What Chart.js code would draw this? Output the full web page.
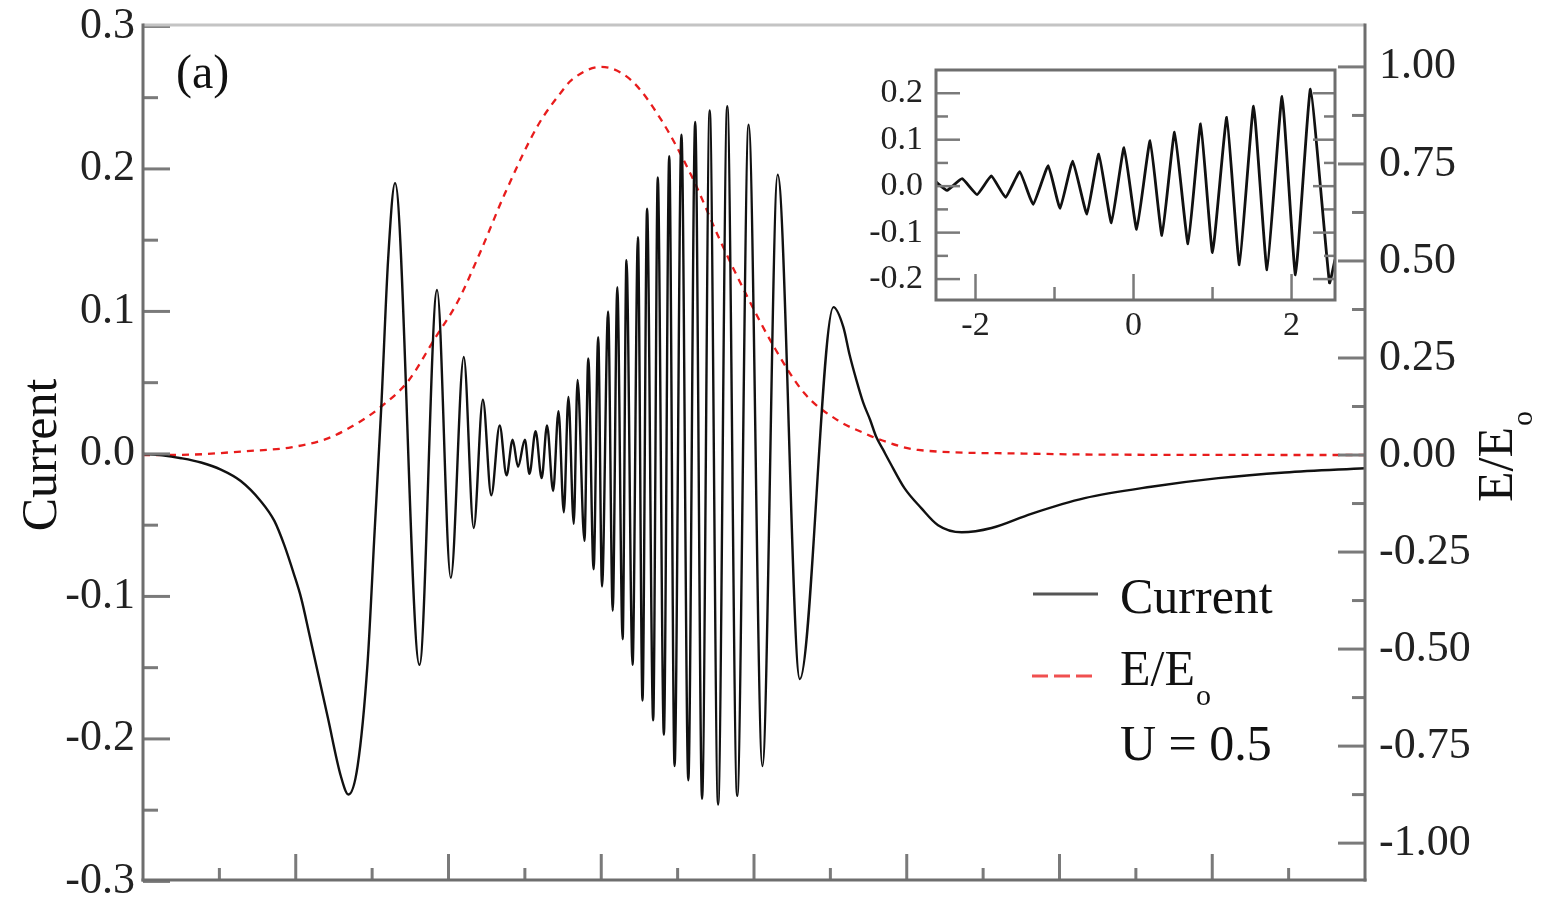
<!DOCTYPE html>
<html>
<head>
<meta charset="utf-8">
<script src="https://cdn.jsdelivr.net/npm/chart.js@4.4.1/dist/chart.umd.min.js"></script>
<style>
  html, body { margin: 0; padding: 0; background: #fff; }
  #wrap { position: relative; width: 1541px; height: 897px; }
  #main { position: absolute; left: 0; top: 0; }
  #inset { position: absolute; left: 860px; top: 60px; }
</style>
</head>
<body>
<div id="wrap">
  <canvas id="main" width="1541" height="897"></canvas>
  <canvas id="inset" width="485" height="290"></canvas>
</div>
<script>
// main panel - current (left axis)
const currentT = [-6.00, -5.75, -5.50, -5.24, -4.98, -4.72, -4.46, -4.28, -4.15, -4.02, -3.93, -3.82, -3.70, -3.58, -3.41, -3.31,
  -3.19, -3.06, -2.97, -2.88, -2.79, -2.70, -2.38, -2.15, -1.97, -1.80, -1.67, -1.55, -1.44, -1.33,
  -1.24, -1.16, -1.09, -1.00, -0.94, -0.86, -0.78, -0.71, -0.63, -0.56, -0.49, -0.43, -0.36, -0.31,
  -0.22, -0.17, -0.10, -0.04, 0.01, 0.09, 0.15, 0.21, 0.28, 0.33, 0.41, 0.48, 0.54, 0.60, 0.68, 0.74,
  0.82, 0.89, 0.96, 1.05, 1.14, 1.23, 1.32, 1.42, 1.53, 1.65, 1.78, 1.93, 2.11, 2.31, 2.60, 3.04,
  3.17, 3.25, 3.34, 3.43, 3.52, 3.60, 3.69, 3.78, 3.97, 4.19, 4.41, 4.72, 5.11, 5.63, 6.33, 7.20, 8.08, 8.95, 10.0];
const currentVal = [0.000, -0.001, -0.003, -0.006, -0.011, -0.019, -0.033, -0.047, -0.064, -0.085, -0.101, -0.127, -0.156, -0.185, -0.226, -0.239,
  -0.219, -0.147, -0.057, 0.033, 0.137, 0.190, -0.148, 0.115, -0.087, 0.068, -0.052, 0.038, -0.029, 0.020,
  -0.015, 0.010, -0.009, 0.010, -0.014, 0.016, -0.017, 0.020, -0.026, 0.030, -0.041, 0.040, -0.049, 0.052,
  -0.061, 0.067, -0.081, 0.082, -0.093, 0.100, -0.110, 0.117, -0.130, 0.136, -0.148, 0.152, -0.173, 0.172, -0.187, 0.194,
  -0.197, 0.209, -0.219, 0.224, -0.229, 0.233, -0.242, 0.241, -0.246, 0.244, -0.240, 0.231, -0.219, 0.196, -0.158, 0.103,
  0.089, 0.070, 0.052, 0.036, 0.024, 0.012, 0.003, -0.006, -0.024, -0.038, -0.050, -0.055, -0.052, -0.042, -0.031, -0.023, -0.017, -0.013, -0.010];

// main panel - field envelope E/Eo (right axis)
const fieldT = [-6, -5.37, -4.72, -4.06, -3.58, -3.15, -2.88, -2.53, -2.18, -1.88, -1.59, -1.27, -0.83, -0.52, -0.39,
  0, 0.39, 0.79, 1.18, 1.57, 1.92, 2.27, 2.66, 3.10, 3.47, 3.63, 4.15, 5.46, 6.55, 10];
const fieldVal = [0, 0.001, 0.009, 0.020, 0.043, 0.087, 0.125, 0.19, 0.30, 0.395, 0.52, 0.67, 0.849, 0.936, 0.966,
  1.0, 0.966, 0.862, 0.72, 0.547, 0.405, 0.276, 0.159, 0.089, 0.054, 0.041, 0.013, 0.004, 0.001, 0];

// inset - current
const insetT = [-2.50, -2.36, -2.17, -1.98, -1.80, -1.62, -1.44, -1.27, -1.08, -0.93, -0.77, -0.59, -0.44, -0.28,
  -0.12, 0.04, 0.21, 0.36, 0.52, 0.69, 0.85, 1.00, 1.18, 1.34, 1.52, 1.69, 1.88, 2.05, 2.24, 2.48, 2.55];
const insetVal = [0.009, -0.009, 0.016, -0.018, 0.022, -0.024, 0.031, -0.039, 0.044, -0.048, 0.054, -0.060, 0.069, -0.079,
  0.083, -0.093, 0.098, -0.106, 0.116, -0.124, 0.134, -0.143, 0.148, -0.169, 0.172, -0.180, 0.193, -0.191, 0.209, -0.208, -0.158];

// ticks
const leftTicks = [-0.3, -0.2, -0.1, 0, 0.1, 0.2, 0.3];
const leftMinor = [-0.25, -0.15, -0.05, 0.05, 0.15, 0.25];
const rightTicks = [-1, -0.75, -0.5, -0.25, 0, 0.25, 0.5, 0.75, 1];
const rightMinor = [-0.875, -0.625, -0.375, -0.125, 0.125, 0.375, 0.625, 0.875];
const xMajor = [-4, -2, 0, 2, 4, 6, 8];
const xMinor = [-5, -3, -1, 1, 3, 5, 7, 9];
const insetYTicks = [-0.2, -0.1, 0, 0.1, 0.2];
const insetYMinor = [-0.15, -0.05, 0.05, 0.15];
const insetXTicks = [-2, 0, 2];
const insetXMinor = [-1, 1];

const SERIF = "'Liberation Serif', 'DejaVu Serif', serif";
Chart.defaults.font.family = SERIF;

const pts = (xs, ys) => xs.map((x, i) => ({ x, y: ys[i] }));

function line(ctx, x1, y1, x2, y2) {
  ctx.beginPath();
  ctx.moveTo(x1, y1);
  ctx.lineTo(x2, y2);
  ctx.stroke();
}

const mainDeco = {
  id: 'mainDeco',
  afterDatasetsDraw(chart) {
    const { ctx, chartArea: a, scales } = chart;
    ctx.save();
    ctx.lineWidth = 3;
    ctx.strokeStyle = '#7a7a7a';
    leftTicks.forEach(v => { const p = scales.y.getPixelForValue(v); line(ctx, a.left, p, a.left + 27, p); });
    leftMinor.forEach(v => { const p = scales.y.getPixelForValue(v); line(ctx, a.left, p, a.left + 15, p); });
    rightTicks.forEach(v => { const p = scales.y2.getPixelForValue(v); line(ctx, a.right, p, a.right - 27, p); });
    rightMinor.forEach(v => { const p = scales.y2.getPixelForValue(v); line(ctx, a.right, p, a.right - 13, p); });
    xMajor.forEach(v => { const p = scales.x.getPixelForValue(v); line(ctx, p, a.bottom, p, a.bottom - 26); });
    xMinor.forEach(v => { const p = scales.x.getPixelForValue(v); line(ctx, p, a.bottom, p, a.bottom - 12); });
    // frame
    ctx.strokeStyle = '#c4c4c4';
    line(ctx, a.left, a.top, a.right, a.top);
    ctx.strokeStyle = '#6e6e6e';
    line(ctx, a.left, a.top - 1.5, a.left, a.bottom + 1.5);
    line(ctx, a.left - 1.5, a.bottom, a.right + 1.5, a.bottom);
    line(ctx, a.right, a.top - 1.5, a.right, a.bottom + 1.5);
    ctx.restore();
  },
  afterDraw(chart) {
    const ctx = chart.ctx;
    ctx.save();
    ctx.fillStyle = '#111';
    ctx.textBaseline = 'alphabetic';
    ctx.font = '48px ' + SERIF;
    ctx.textAlign = 'left';
    ctx.fillText('(a)', 176, 88);

    // axis titles
    ctx.font = '50px ' + SERIF;
    ctx.save();
    ctx.translate(56, 455);
    ctx.rotate(-Math.PI / 2);
    ctx.textAlign = 'center';
    ctx.fillText('Current', 0, 0);
    ctx.restore();

    ctx.save();
    ctx.translate(1512, 502);
    ctx.rotate(-Math.PI / 2);
    ctx.textAlign = 'left';
    ctx.fillText('E/E', 0, 0);
    const w = ctx.measureText('E/E').width;
    ctx.font = '30px ' + SERIF;
    ctx.fillText('o', w + 1, 20);
    ctx.restore();

    // legend
    ctx.lineWidth = 3;
    ctx.strokeStyle = '#555';
    line(ctx, 1033, 594, 1098, 594);
    ctx.strokeStyle = '#f05050';
    ctx.setLineDash([16, 6]);
    line(ctx, 1032, 676, 1096, 676);
    ctx.setLineDash([]);
    ctx.font = '50px ' + SERIF;
    ctx.fillText('Current', 1120, 613);
    ctx.fillText('E/E', 1120, 685);
    const w2 = ctx.measureText('E/E').width;
    ctx.fillText('U = 0.5', 1120, 760);
    ctx.font = '30px ' + SERIF;
    ctx.fillText('o', 1120 + w2 + 1, 705);
    ctx.restore();
  }
};

new Chart(document.getElementById('main'), {
  type: 'line',
  data: {
    datasets: [
      {
        label: 'Current',
        data: pts(currentT, currentVal),
        yAxisID: 'y',
        borderColor: '#111',
        borderWidth: 2.4,
        pointRadius: 0,
        cubicInterpolationMode: 'monotone'
      },
      {
        label: 'E/Eo',
        data: pts(fieldT, fieldVal),
        yAxisID: 'y2',
        borderColor: '#e81c1c',
        borderWidth: 2.3,
        borderDash: [7, 6],
        pointRadius: 0,
        cubicInterpolationMode: 'monotone'
      }
    ]
  },
  options: {
    responsive: false,
    animation: false,
    devicePixelRatio: 1,
    layout: { padding: { top: 25, left: 0, right: 0, bottom: 0 } },
    plugins: { legend: { display: false }, tooltip: { enabled: false } },
    scales: {
      x: {
        type: 'linear', min: -6, max: 10,
        grid: { display: false, drawTicks: false },
        border: { display: false },
        ticks: { display: false },
        afterFit(s) { s.height = 17; s.paddingLeft = 0; s.paddingRight = 0; }
      },
      y: {
        position: 'left', min: -0.299, max: 0.301,
        afterBuildTicks(s) { s.ticks = leftTicks.map(v => ({ value: v })); },
        ticks: { callback: v => v.toFixed(1), padding: 8, color: '#222', font: { size: 44 }, autoSkip: false },
        grid: { display: false, drawTicks: false },
        border: { display: false },
        afterFit(s) { s.width = 143; s.paddingTop = 0; s.paddingBottom = 0; }
      },
      y2: {
        position: 'right', min: -1.095, max: 1.108,
        afterBuildTicks(s) { s.ticks = rightTicks.map(v => ({ value: v })); },
        ticks: { callback: v => v.toFixed(2), padding: 14, color: '#222', font: { size: 44 }, autoSkip: false },
        grid: { display: false, drawTicks: false },
        border: { display: false },
        afterFit(s) { s.width = 176; s.paddingTop = 0; s.paddingBottom = 0; }
      }
    }
  },
  plugins: [mainDeco]
});

const insetDeco = {
  id: 'insetDeco',
  beforeDatasetsDraw(chart) {
    const { ctx, chartArea: a } = chart;
    ctx.save();
    ctx.fillStyle = '#fff';
    ctx.fillRect(a.left, a.top, a.right - a.left, a.bottom - a.top);
    ctx.restore();
  },
  afterDatasetsDraw(chart) {
    const { ctx, chartArea: a, scales } = chart;
    ctx.save();
    ctx.lineWidth = 2.5;
    ctx.strokeStyle = '#7a7a7a';
    insetYTicks.forEach(v => {
      const p = scales.y.getPixelForValue(v);
      line(ctx, a.left, p, a.left + 24, p);
      line(ctx, a.right, p, a.right - 22, p);
    });
    insetYMinor.forEach(v => {
      const p = scales.y.getPixelForValue(v);
      line(ctx, a.left, p, a.left + 12, p);
      line(ctx, a.right, p, a.right - 11, p);
    });
    insetXTicks.forEach(v => { const p = scales.x.getPixelForValue(v); line(ctx, p, a.bottom, p, a.bottom - 26); });
    insetXMinor.forEach(v => { const p = scales.x.getPixelForValue(v); line(ctx, p, a.bottom, p, a.bottom - 13); });
    ctx.strokeStyle = '#6e6e6e';
    ctx.lineWidth = 3;
    ctx.strokeRect(a.left, a.top, a.right - a.left, a.bottom - a.top);
    ctx.restore();
  }
};

new Chart(document.getElementById('inset'), {
  type: 'line',
  data: {
    datasets: [{
      label: 'Current',
      data: pts(insetT, insetVal),
      borderColor: '#111',
      borderWidth: 2.8,
      pointRadius: 0,
      tension: 0.12,
      borderJoinStyle: 'round'
    }]
  },
  options: {
    responsive: false,
    animation: false,
    devicePixelRatio: 1,
    layout: { padding: { top: 10, right: 10, left: 0, bottom: 0 } },
    plugins: { legend: { display: false }, tooltip: { enabled: false } },
    scales: {
      x: {
        type: 'linear', min: -2.5, max: 2.55,
        afterBuildTicks(s) { s.ticks = insetXTicks.map(v => ({ value: v })); },
        ticks: { callback: v => String(v), padding: 6, color: '#222', font: { size: 34 }, autoSkip: false, maxRotation: 0 },
        grid: { display: false, drawTicks: false },
        border: { display: false },
        afterFit(s) { s.height = 50; s.paddingLeft = 0; s.paddingRight = 0; }
      },
      y: {
        min: -0.245, max: 0.25,
        afterBuildTicks(s) { s.ticks = insetYTicks.map(v => ({ value: v })); },
        ticks: { callback: v => v.toFixed(1), padding: 13, color: '#222', font: { size: 34 }, autoSkip: false },
        grid: { display: false, drawTicks: false },
        border: { display: false },
        afterFit(s) { s.width = 76; s.paddingTop = 0; s.paddingBottom = 0; }
      }
    }
  },
  plugins: [insetDeco]
});
</script>
</body>
</html>
